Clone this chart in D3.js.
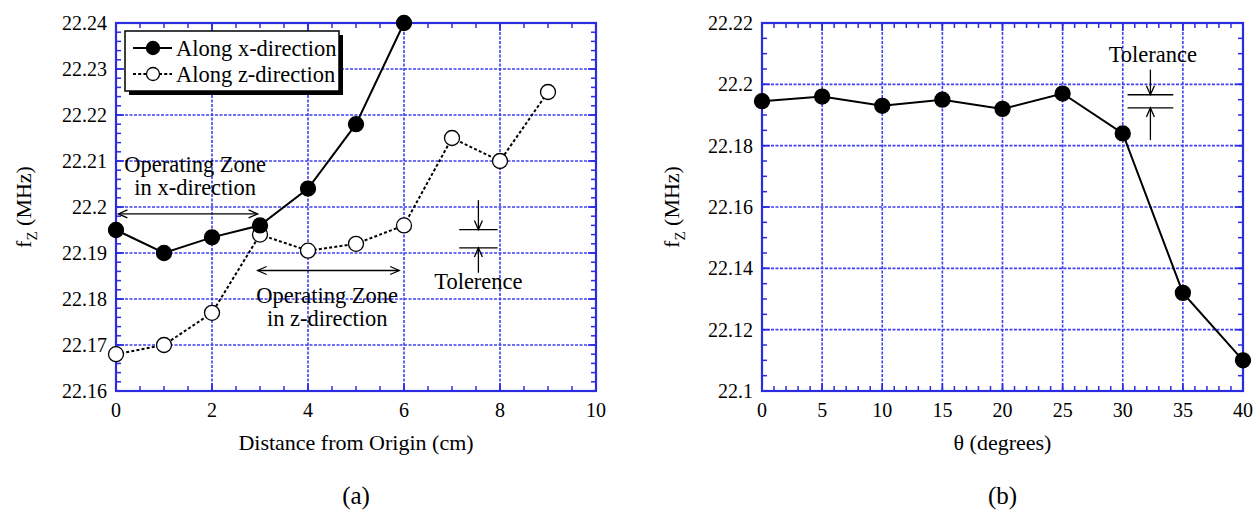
<!DOCTYPE html>
<html>
<head>
<meta charset="utf-8">
<script src="https://cdn.jsdelivr.net/npm/d3@7"></script>
<style>
  body { margin: 0; background: #fff; }
  text { font-family: "Liberation Serif", "Times New Roman", serif; fill: #000; }
</style>
</head>
<body>
<div id="chart"></div>
<script>
// panel (a): frequency vs distance from origin
var distX = [0, 1, 2, 3, 4, 5, 6]
var alongX = [22.195, 22.190, 22.1934, 22.196, 22.204, 22.218, 22.240]
var distZ = [0, 1, 2, 3, 4, 5, 6, 7, 8, 9]
var alongZ = [22.168, 22.170, 22.177, 22.194, 22.1905, 22.192, 22.196, 22.215, 22.210, 22.225]
var xTicksA = [0, 2, 4, 6, 8, 10]
var yTicksA = [22.16, 22.17, 22.18, 22.19, 22.2, 22.21, 22.22, 22.23, 22.24]

// panel (b): frequency vs angle
var theta = [0, 5, 10, 15, 20, 25, 30, 35, 40]
var fTheta = [22.1945, 22.196, 22.193, 22.195, 22.192, 22.197, 22.184, 22.132, 22.110]
var xTicksB = [0, 5, 10, 15, 20, 25, 30, 35, 40]
var yTicksB = [22.1, 22.12, 22.14, 22.16, 22.18, 22.2, 22.22]

var width = 1260, height = 518
var blue = '#2b2be0', gridBlue = '#4040f2'

var svg = d3.select('#chart')
  .append('svg')
    .attr('width', width)
    .attr('height', height)

var defs = svg.append('defs')
defs.append('marker')
    .attr('id', 'head')
    .attr('viewBox', '-10 -6 12 12')
    .attr('markerWidth', 12).attr('markerHeight', 12)
    .attr('markerUnits', 'userSpaceOnUse')
    .attr('orient', 'auto-start-reverse')
  .append('path')
    .attr('d', 'M-9,-4L0,0L-9,4')
    .attr('fill', 'none').attr('stroke', '#000').attr('stroke-width', 1.3)

function fmt(v){ return String(+v.toFixed(2)) }

function panel(o){
  var g = svg.append('g')
  var x = d3.scaleLinear().domain(o.xd).range([o.l, o.r])
  var y = d3.scaleLinear().domain(o.yd).range([o.b, o.t])

  // grid
  g.selectAll('.gx').data(o.xt.slice(1, -1)).enter().append('line')
      .attr('x1', x).attr('x2', x).attr('y1', o.t).attr('y2', o.b)
      .attr('stroke', gridBlue).attr('stroke-width', 1.6).attr('stroke-dasharray', '3,1.5')
  g.selectAll('.gy').data(o.yt.slice(1, -1)).enter().append('line')
      .attr('y1', y).attr('y2', y).attr('x1', o.l).attr('x2', o.r)
      .attr('stroke', gridBlue).attr('stroke-width', 1.6).attr('stroke-dasharray', '3,1.5')

  // inward ticks on all four sides
  function ticks(vals, len){
    vals.forEach(function(v){
      var px = x(v)
      if (px >= o.l - 0.5 && px <= o.r + 0.5) {
        g.append('line').attr('x1', px).attr('x2', px).attr('y1', o.b).attr('y2', o.b - len)
        g.append('line').attr('x1', px).attr('x2', px).attr('y1', o.t).attr('y2', o.t + len)
      }
    })
  }
  function yticks(vals, len){
    vals.forEach(function(v){
      var py = y(v)
      g.append('line').attr('y1', py).attr('y2', py).attr('x1', o.l).attr('x2', o.l + len)
      g.append('line').attr('y1', py).attr('y2', py).attr('x1', o.r).attr('x2', o.r - len)
    })
  }
  ticks(d3.range(o.xd[0], o.xd[1] + 1e-9, o.xm), 5)
  ticks(o.xt, 8)
  yticks(d3.range(0, Math.round((o.yd[1] - o.yd[0]) / o.ym) + 1).map(function(i){ return o.yd[0] + i * o.ym }), 5)
  yticks(o.yt, 8)
  g.selectAll('line').filter(function(){ return !this.getAttribute('stroke') })
      .attr('stroke', blue).attr('stroke-width', 1.5)

  g.append('rect')
      .attr('x', o.l).attr('y', o.t).attr('width', o.r - o.l).attr('height', o.b - o.t)
      .attr('fill', 'none').attr('stroke', blue).attr('stroke-width', 2.2)

  // labels
  g.selectAll('.xl').data(o.xt).enter().append('text')
      .attr('x', x).attr('y', o.b + 26)
      .attr('text-anchor', 'middle').attr('font-size', 20)
      .text(function(d){ return d })
  g.selectAll('.yl').data(o.yt).enter().append('text')
      .attr('x', o.l - 9).attr('y', y).attr('dy', '0.35em')
      .attr('text-anchor', 'end').attr('font-size', 20)
      .text(fmt)

  g.append('text')
      .attr('x', (o.l + o.r) / 2).attr('y', o.b + 59)
      .attr('text-anchor', 'middle').attr('font-size', 22)
      .text(o.xlabel)

  var yl = g.append('text')
      .attr('transform', 'translate(' + o.ylx + ',' + (o.t + o.b) / 2 + ') rotate(-90)')
      .attr('text-anchor', 'middle').attr('font-size', 22)
  yl.append('tspan').text('f')
  yl.append('tspan').attr('font-size', 15).attr('dy', 6).text('Z')
  yl.append('tspan').attr('dy', -6).text(' (MHz)')

  g.append('text')
      .attr('x', (o.l + o.r) / 2).attr('y', 504)
      .attr('text-anchor', 'middle').attr('font-size', 25)
      .text(o.tag)

  return {g: g, x: x, y: y}
}

function series(p, xs, ys, filled, dashed){
  var line = d3.line().x(function(d){ return p.x(d[0]) }).y(function(d){ return p.y(d[1]) })
  var pts = d3.zip(xs, ys)
  p.g.append('path')
      .attr('d', line(pts))
      .attr('fill', 'none').attr('stroke', '#000').attr('stroke-width', 2)
      .attr('stroke-dasharray', dashed ? '3,2.2' : null)
  p.g.selectAll(null).data(pts).enter().append('circle')
      .attr('cx', function(d){ return p.x(d[0]) })
      .attr('cy', function(d){ return p.y(d[1]) })
      .attr('r', 7.5)
      .attr('fill', filled ? '#000' : '#fff')
      .attr('stroke', '#000').attr('stroke-width', 1.3)
}

function arrow(p, x1, y1, x2, y2, both){
  p.g.append('line')
      .attr('x1', p.x(x1)).attr('y1', p.y(y1)).attr('x2', p.x(x2)).attr('y2', p.y(y2))
      .attr('stroke', '#000').attr('stroke-width', 1.3)
      .attr('marker-end', 'url(#head)')
      .attr('marker-start', both ? 'url(#head)' : null)
}

function note(p, xv, yv, lines){
  var t = p.g.append('text')
      .attr('x', p.x(xv)).attr('y', p.y(yv))
      .attr('text-anchor', 'middle').attr('font-size', 22.5)
  lines.forEach(function(s, i){
    t.append('tspan').attr('x', p.x(xv)).attr('dy', i ? 23 : 0).text(s)
  })
}

function tolerance(p, x1, x2, yTop, yBot, yOutTop, yOutBot){
  var xm = (x1 + x2) / 2
  ;[yTop, yBot].forEach(function(v){
    p.g.append('line')
        .attr('x1', p.x(x1)).attr('x2', p.x(x2)).attr('y1', p.y(v)).attr('y2', p.y(v))
        .attr('stroke', '#000').attr('stroke-width', 1.3)
  })
  arrow(p, xm, yOutTop, xm, yTop, false)
  arrow(p, xm, yOutBot, xm, yBot, false)
}

// ---- panel (a)
var a = panel({l: 116, r: 596, t: 23, b: 391, xd: [0, 10], yd: [22.16, 22.24],
  xt: xTicksA, yt: yTicksA, xm: 0.5, ym: 0.002,
  xlabel: 'Distance from Origin (cm)', ylx: 31, tag: '(a)'})

series(a, distZ, alongZ, false, true)
series(a, distX, alongX, true, false)

arrow(a, 0.05, 22.1985, 2.95, 22.1985, true)
note(a, 1.65, 22.2076, ['Operating Zone', 'in x-direction'])
arrow(a, 2.95, 22.1862, 5.9, 22.1862, true)
note(a, 4.4, 22.1792, ['Operating Zone', 'in z-direction'])
tolerance(a, 7.15, 7.95, 22.1951, 22.1911, 22.2015, 22.1857)
note(a, 7.55, 22.1822, ['Tolerence'])

// legend
var lg = a.g.append('g')
lg.append('rect').attr('x', 129).attr('y', 35).attr('width', 214).attr('height', 60).attr('fill', '#000')
lg.append('rect').attr('x', 125).attr('y', 31).attr('width', 214).attr('height', 60)
    .attr('fill', '#fff').attr('stroke', '#000').attr('stroke-width', 1.5)
;[[true, false, 'Along x-direction'], [false, true, 'Along z-direction']].forEach(function(d, i){
  var yy = 48 + i * 26
  lg.append('line').attr('x1', 133).attr('x2', 172).attr('y1', yy).attr('y2', yy)
      .attr('stroke', '#000').attr('stroke-width', 2).attr('stroke-dasharray', d[1] ? '3,2.2' : null)
  lg.append('circle').attr('cx', 153).attr('cy', yy).attr('r', 6.5)
      .attr('fill', d[0] ? '#000' : '#fff').attr('stroke', '#000').attr('stroke-width', 1.3)
  lg.append('text').attr('x', 176).attr('y', yy).attr('dy', '0.35em').attr('font-size', 22.5).text(d[2])
})

// ---- panel (b)
var b = panel({l: 762, r: 1243, t: 23, b: 391, xd: [0, 40], yd: [22.1, 22.22],
  xt: xTicksB, yt: yTicksB, xm: 1, ym: 0.005,
  xlabel: 'θ (degrees)', ylx: 679, tag: '(b)'})

series(b, theta, fTheta, true, false)
tolerance(b, 30.4, 34.2, 22.1966, 22.1923, 22.2048, 22.1818)
note(b, 32.5, 22.2074, ['Tolerance'])
</script>
</body>
</html>
